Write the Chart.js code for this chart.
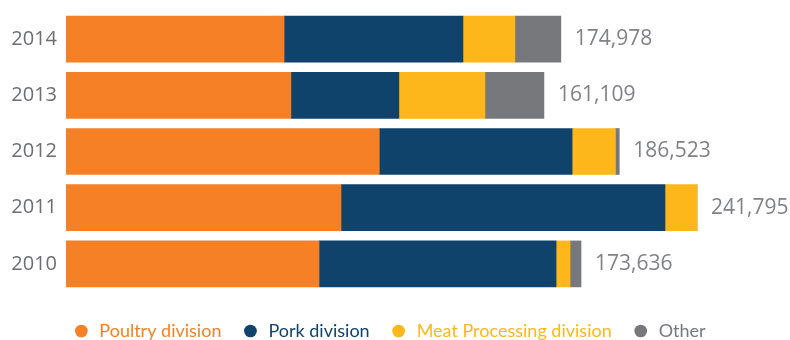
<!DOCTYPE html>
<html>
<head>
<meta charset="utf-8">
<script src="https://cdn.jsdelivr.net/npm/chart.js@4/dist/chart.umd.min.js"></script>
<style>
  html, body { margin: 0; padding: 0; background: #ffffff; }
  #wrap { width: 790px; height: 340px; position: relative; }
</style>
</head>
<body>
<div id="wrap"><canvas id="c"></canvas></div>
<script>
const categories = ['2014', '2013', '2012', '2011', '2010'];
const poultry = [73500, 75800, 105600, 92700, 85300];
const pork = [60300, 36400, 65000, 109200, 79900];
const meatProcessing = [17500, 29000, 14600, 10800, 4700];
const other = [15500, 19900, 1300, 0, 3700];
const totalLabels = ['174,978', '161,109', '186,523', '241,795', '173,636'];
const seriesNames = ['Poultry division', 'Pork division', 'Meat Processing division', 'Other'];
const seriesColors = ['#F58025', '#10436C', '#FDB71A', '#77787B'];

const seriesValues = [poultry, pork, meatProcessing, other];

const totalsPlugin = {
  id: 'totals',
  afterLayout(chart) {
    if (chart.legend) {
      chart.legend.top += 10;
      chart.legend.bottom += 10;
    }
  },
  afterDatasetsDraw(chart) {
    const ctx = chart.ctx;
    const xs = chart.scales.x, ys = chart.scales.y;
    ctx.save();
    ctx.font = '21px "Open Sans"';
    ctx.fillStyle = '#808285';
    ctx.textAlign = 'left';
    ctx.textBaseline = 'middle';
    categories.forEach((c, i) => {
      let sum = 0;
      seriesValues.forEach(arr => { sum += arr[i]; });
      const x = xs.getPixelForValue(sum);
      const y = ys.getPixelForValue(i);
      ctx.fillText(totalLabels[i], x + 14, y);
    });
    ctx.restore();
  }
};

new Chart(document.getElementById('c'), {
  type: 'bar',
  data: {
    labels: categories,
    datasets: seriesNames.map((name, k) => ({
      label: name,
      data: seriesValues[k],
      backgroundColor: seriesColors[k],
      borderWidth: 0,
      barThickness: 46
    }))
  },
  options: {
    indexAxis: 'y',
    responsive: true,
    maintainAspectRatio: false,
    animation: false,
    layout: { padding: { top: 11, right: 12, bottom: 0, left: 0 } },
    scales: {
      x: {
        stacked: true,
        min: 0,
        max: 240000,
        grid: { display: false, drawTicks: false },
        border: { display: false },
        ticks: { display: false },
        afterFit(scale) { scale.height = 0; }
      },
      y: {
        stacked: true,
        grid: { display: false, drawTicks: true, tickLength: 9 },
        border: { display: false },
        ticks: {
          color: '#6D6E71',
          font: { family: '"Open Sans"', size: 20, lineHeight: 1 },
          padding: 0
        },
        afterFit(scale) { scale.width = 66; }
      }
    },
    plugins: {
      tooltip: { enabled: false },
      legend: {
        position: 'bottom',
        align: 'center',
        labels: {
          usePointStyle: true,
          pointStyle: 'circle',
          boxWidth: 18,
          boxHeight: 9,
          padding: 20,
          font: { family: 'Lato', size: 18 },
          generateLabels(chart) {
            const items = Chart.defaults.plugins.legend.labels.generateLabels(chart);
            return items.map((it, k) => Object.assign(it, {
              fontColor: seriesColors[k],
              fillStyle: seriesColors[k],
              strokeStyle: seriesColors[k],
              lineWidth: 0,
              pointStyle: 'circle'
            }));
          }
        }
      }
    }
  },
  plugins: [totalsPlugin]
});
</script>
</body>
</html>
